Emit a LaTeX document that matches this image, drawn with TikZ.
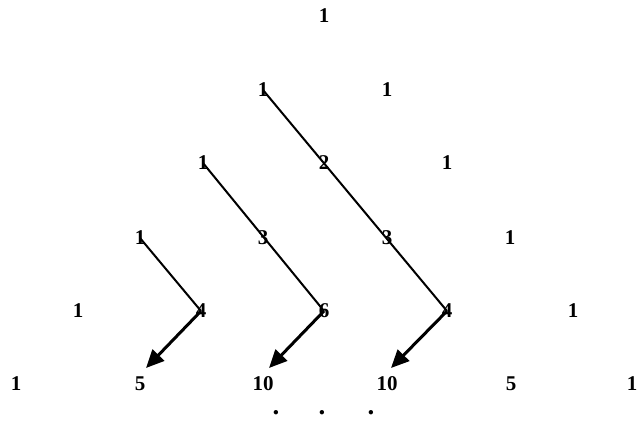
\documentclass[tikz,border=0pt]{standalone}
\usepackage{fontspec}
\setmainfont{Liberation Serif}
\usetikzlibrary{arrows.meta}
\begin{document}
\begin{tikzpicture}[x=1pt,y=-1pt,
  num/.style={font=\fontsize{21}{21}\selectfont\bfseries, inner sep=0pt},
  diag/.style={line width=2pt},
  arr/.style={line width=3pt, -{Triangle[length=18pt,width=16pt]}},
  dotn/.style={font=\fontsize{27}{27}\selectfont\bfseries, inner sep=0pt}]
\useasboundingbox[fill=white] (0,0) rectangle (637,423);
% row 0
\node[num] (r0a) at (324,16) {1};
% row 1
\node[num] (r1a) at (263,90) {1};
\node[num] (r1b) at (387,90) {1};
% row 2
\node[num] (r2a) at (203,163) {1};
\node[num] (r2b) at (324,163) {2};
\node[num] (r2c) at (447,163) {1};
% row 3
\node[num] (r3a) at (140,238) {1};
\node[num] (r3b) at (263,238) {3};
\node[num] (r3c) at (387,238) {3};
\node[num] (r3d) at (510,238) {1};
% row 4
\node[num] (r4a) at (78,311) {1};
\node[num] (r4b) at (201,311) {4};
\node[num] (r4c) at (324,311) {6};
\node[num] (r4d) at (447,311) {4};
\node[num] (r4e) at (573,311) {1};
% row 5
\node[num] (r5a) at (16,384) {1};
\node[num] (r5b) at (140,384) {5};
\node[num] (r5c) at (263,384) {10};
\node[num] (r5d) at (387,384) {10};
\node[num] (r5e) at (511,384) {5};
\node[num] (r5f) at (632,384) {1};
% dots
\node[dotn] (d1) at (276,413) {.};
\node[dotn] (d2) at (322,413) {.};
\node[dotn] (d3) at (371,413) {.};
% arrow tips
\coordinate (t1) at (146,368);
\coordinate (t2) at (269,368);
\coordinate (t3) at (391,368);
% connectors
\draw[diag] (r3a.center) -- (r4b.center);
\draw[arr] (r4b.center) -- (t1);
\draw[diag] (r2a.center) -- (r4c.center);
\draw[arr] (r4c.center) -- (t2);
\draw[diag] (r1a.center) -- (r4d.center);
\draw[arr] (r4d.center) -- (t3);
\end{tikzpicture}
\end{document}
